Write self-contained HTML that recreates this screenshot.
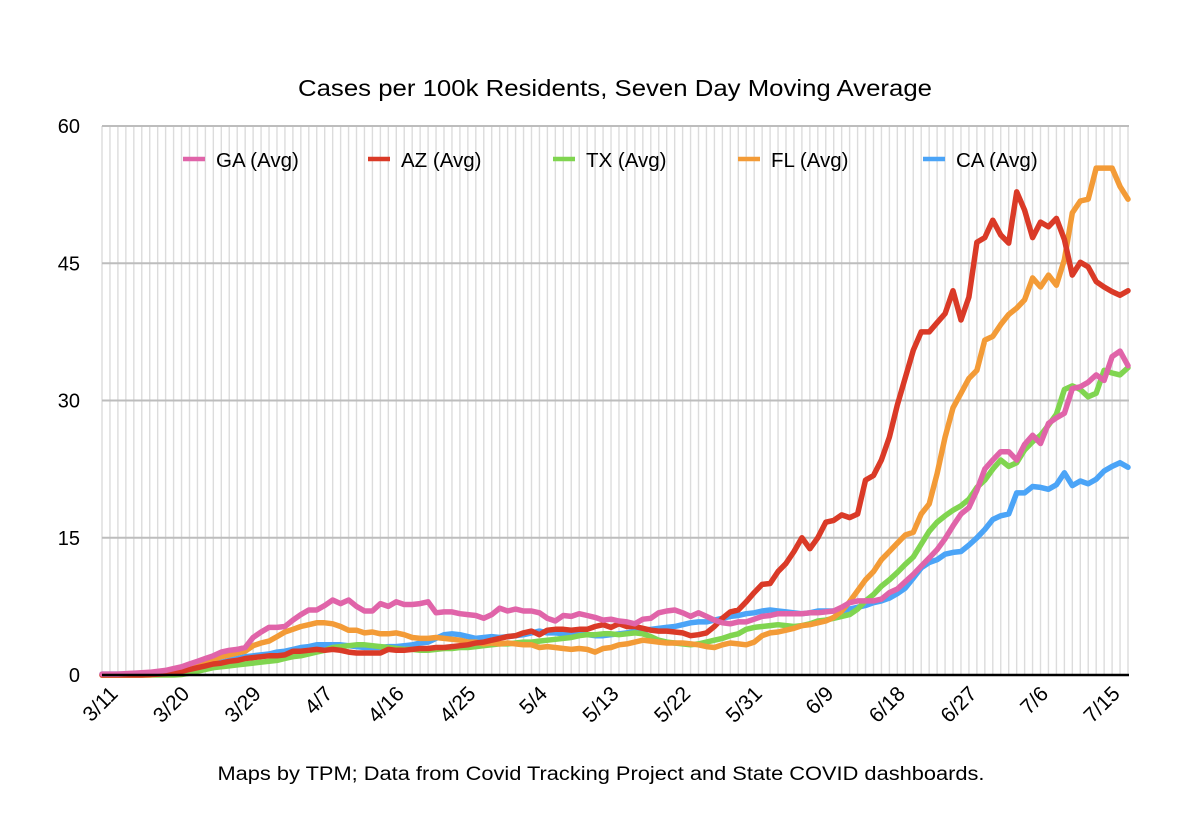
<!DOCTYPE html>
<html><head><meta charset="utf-8"><style>
html,body{margin:0;padding:0;background:#fff;}
svg{display:block;font-family:"Liberation Sans",Arial,sans-serif;}
</style></head><body>
<svg id="chart" width="1200" height="822" viewBox="0 0 1200 822">
<text x="615" y="96" font-size="23" text-anchor="middle" fill="#000" textLength="634" lengthAdjust="spacingAndGlyphs">Cases per 100k Residents, Seven Day Moving Average</text>
<g id="grid"></g><g id="lines"></g><g id="axes"></g><g id="legend"></g>
<text x="601" y="780" font-size="19" text-anchor="middle" fill="#000" textLength="767" lengthAdjust="spacingAndGlyphs">Maps by TPM; Data from Covid Tracking Project and State COVID dashboards.</text>
</svg>
<script>
const xTickLabels=["3/11","3/20","3/29","4/7","4/16","4/25","5/4","5/13","5/22","5/31","6/9","6/18","6/27","7/6","7/15"];
const yTicks=[0,15,30,45,60];
const seriesNames=["CA (Avg)","TX (Avg)","FL (Avg)","AZ (Avg)","GA (Avg)"];
const legendOrder=["GA (Avg)","AZ (Avg)","TX (Avg)","FL (Avg)","CA (Avg)"];
const AZ=[0,0,0,0,0,0,0.05,0.1,0.15,0.25,0.4,0.6,0.8,1.0,1.2,1.3,1.5,1.6,1.8,1.9,2.0,2.1,2.1,2.2,2.6,2.6,2.7,2.8,2.7,2.8,2.7,2.5,2.4,2.4,2.4,2.4,2.8,2.7,2.7,2.8,2.9,2.9,3.0,3.0,3.1,3.2,3.3,3.5,3.6,3.8,4.0,4.2,4.3,4.6,4.8,4.4,4.9,5.0,5.0,4.9,5.0,5.0,5.3,5.5,5.2,5.6,5.3,5.3,5.1,4.9,4.8,4.8,4.7,4.6,4.3,4.4,4.6,5.3,6.2,6.9,7.1,8.0,9.0,9.9,10.0,11.3,12.2,13.5,15.0,13.8,15.0,16.7,16.9,17.5,17.2,17.6,21.3,21.8,23.5,26,29.5,32.5,35.5,37.5,37.5,38.5,39.5,42,38.8,41.3,47.3,47.8,49.7,48.1,47.2,52.8,50.8,47.8,49.5,49.0,49.9,47.6,43.7,45.1,44.6,43.0,42.4,41.9,41.5,42.0];
const FL=[0,0,0,0,0,0,0,0.1,0.2,0.3,0.5,0.8,1.1,1.4,1.7,2.0,2.2,2.4,2.6,3.2,3.5,3.7,4.2,4.7,5.0,5.3,5.5,5.7,5.7,5.6,5.3,4.9,4.9,4.6,4.7,4.5,4.5,4.6,4.4,4.1,4.0,4.0,4.1,4.0,3.9,3.8,3.6,3.6,3.4,3.5,3.4,3.5,3.4,3.3,3.3,3.0,3.1,3.0,2.9,2.8,2.9,2.8,2.5,2.9,3.0,3.3,3.4,3.6,3.8,3.7,3.6,3.5,3.5,3.5,3.4,3.3,3.1,3.0,3.3,3.5,3.4,3.3,3.6,4.3,4.6,4.7,4.9,5.1,5.4,5.5,5.7,5.9,6.3,7.0,8.0,9.2,10.4,11.3,12.6,13.5,14.4,15.3,15.6,17.6,18.7,22,26,29.2,30.8,32.4,33.3,36.6,37,38.3,39.4,40.1,41,43.4,42.4,43.7,42.6,45.4,50.5,51.8,52,55.4,55.4,55.4,53.4,52];
const TX=[0,0,0,0,0,0,0,0,0,0,0.05,0.2,0.4,0.6,0.8,0.9,1.0,1.1,1.2,1.3,1.4,1.5,1.6,1.8,2.0,2.1,2.3,2.5,2.7,3.0,3.1,3.2,3.3,3.3,3.2,3.1,3.0,2.9,2.8,2.8,2.7,2.7,2.8,2.9,2.9,3.0,3.0,3.1,3.2,3.3,3.4,3.4,3.5,3.6,3.6,3.7,3.8,3.9,4.0,4.1,4.3,4.4,4.4,4.5,4.5,4.4,4.5,4.6,4.5,4.2,3.8,3.6,3.5,3.4,3.3,3.4,3.6,3.8,4.0,4.3,4.5,5.0,5.2,5.3,5.4,5.5,5.4,5.3,5.4,5.6,5.9,6.0,6.2,6.4,6.6,7.2,8.1,8.8,9.7,10.4,11.2,12.1,12.9,14.3,15.7,16.7,17.4,18.0,18.5,19.2,20.5,21.3,22.5,23.5,22.8,23.2,24.6,25.5,26.2,27.3,28.5,31.2,31.6,31.2,30.4,30.8,33.3,33.0,32.8,33.6];
const GA=[0.1,0.1,0.1,0.15,0.2,0.25,0.3,0.4,0.5,0.7,0.9,1.2,1.5,1.8,2.1,2.5,2.7,2.8,3.0,4.1,4.7,5.2,5.2,5.3,6.0,6.6,7.1,7.1,7.6,8.2,7.8,8.2,7.5,7.0,7.0,7.8,7.5,8.0,7.7,7.7,7.8,8.0,6.8,6.9,6.9,6.7,6.6,6.5,6.2,6.6,7.3,7.0,7.2,7.0,7.0,6.8,6.2,5.9,6.5,6.4,6.7,6.5,6.3,6.0,6.1,5.9,5.8,5.6,6.1,6.2,6.8,7.0,7.1,6.8,6.4,6.8,6.4,6.0,5.7,5.6,5.8,5.8,6.1,6.4,6.5,6.7,6.7,6.7,6.7,6.8,6.8,6.9,7.0,7.4,7.9,8.1,8.1,8.1,8.3,9.0,9.4,10.2,11.0,11.9,12.8,13.7,14.9,16.3,17.6,18.3,20.2,22.5,23.5,24.4,24.4,23.5,25.2,26.2,25.3,27.5,28.1,28.6,31.3,31.5,32.0,32.8,32.2,34.8,35.4,33.8];
const CA=[0.1,0.1,0.1,0.1,0.15,0.2,0.25,0.3,0.4,0.5,0.6,0.8,1.0,1.1,1.2,1.4,1.6,1.8,2.0,2.1,2.2,2.3,2.5,2.6,2.8,3.0,3.1,3.3,3.3,3.3,3.3,3.2,3.1,3.0,3.0,3.0,3.1,3.1,3.2,3.3,3.5,3.6,4.0,4.4,4.5,4.4,4.2,4.0,4.1,4.2,4.1,4.2,4.3,4.4,4.6,4.8,4.6,4.6,4.5,4.5,4.5,4.4,4.3,4.3,4.4,4.5,4.6,4.8,4.9,5.0,5.1,5.2,5.3,5.5,5.7,5.8,5.8,6.0,6.2,6.4,6.5,6.7,6.8,7.0,7.1,7.0,6.9,6.8,6.7,6.8,7.0,7.0,7.0,7.0,7.2,7.4,7.6,7.9,8.1,8.4,8.9,9.5,10.6,11.7,12.3,12.6,13.2,13.4,13.5,14.2,15.0,15.9,17.0,17.4,17.6,19.9,19.9,20.6,20.5,20.3,20.8,22.1,20.7,21.2,20.9,21.4,22.3,22.8,23.2,22.7];
const colors={"GA (Avg)":"#e064a9","AZ (Avg)":"#da3a27","TX (Avg)":"#80d550","FL (Avg)":"#f39b37","CA (Avg)":"#4ba4f7"};
const dataByName={"GA (Avg)":GA,"AZ (Avg)":AZ,"TX (Avg)":TX,"FL (Avg)":FL,"CA (Avg)":CA};

const NS="http://www.w3.org/2000/svg";
const X0=102,X1=1128,Y0=675,Y1=126,nDays=AZ.length;
const xs=d=>X0+d*(X1-X0)/(nDays-1);
const ys=v=>Y0-(v/60)*(Y0-Y1);
function mk(tag,attrs,parent){const e=document.createElementNS(NS,tag);for(const k in attrs)e.setAttribute(k,attrs[k]);parent.appendChild(e);return e;}
const grid=document.getElementById('grid'),lines=document.getElementById('lines'),axes=document.getElementById('axes'),legend=document.getElementById('legend');
for(let d=0;d<nDays;d++){
  const l=mk('line',{x1:xs(d),x2:xs(d),y1:Y1,y2:Y0,stroke:'#dcdcdc','stroke-width':1.4},grid);
  
  
}
yTicks.forEach(t=>{
  const l=mk('line',{x1:X0,x2:X1+1,y1:ys(t),y2:ys(t),stroke:t===0?'#000':'#bdbdbd','stroke-width':t===0?2.5:2},t===0?axes:grid);
  
  
  const tx=mk('text',{x:80,y:ys(t)+7,'font-size':20,'text-anchor':'end',fill:'#000'},axes);
  tx.textContent=t;
  
  
});
xTickLabels.forEach((lab,i)=>{
  const x=xs(i*9)+17,y=695;
  const tx=mk('text',{x:x,y:y,'font-size':21,'text-anchor':'end',fill:'#000',transform:`rotate(-45 ${x} ${y})`},axes);
  tx.textContent=lab;
  
  
});
seriesNames.forEach(n=>{
  const arr=dataByName[n];
  const pts=arr.map((v,d)=>xs(d).toFixed(1)+','+ys(v).toFixed(1)).join(' ');
  const p=mk('polyline',{points:pts,fill:'none',stroke:colors[n],'stroke-width':5.5,'stroke-linejoin':'round','stroke-linecap':'round'},lines);
  
  
});
legendOrder.forEach((n,i)=>{
  const lx=183+i*185;
  const g=mk('g',{},legend);
  
  
  mk('line',{x1:lx,x2:lx+22,y1:159,y2:159,stroke:colors[n],'stroke-width':4.5},g);
  const t=mk('text',{x:lx+33,y:167,'font-size':20.5,fill:'#000'},g);
  t.textContent=n;
});
</script>
</body></html>
